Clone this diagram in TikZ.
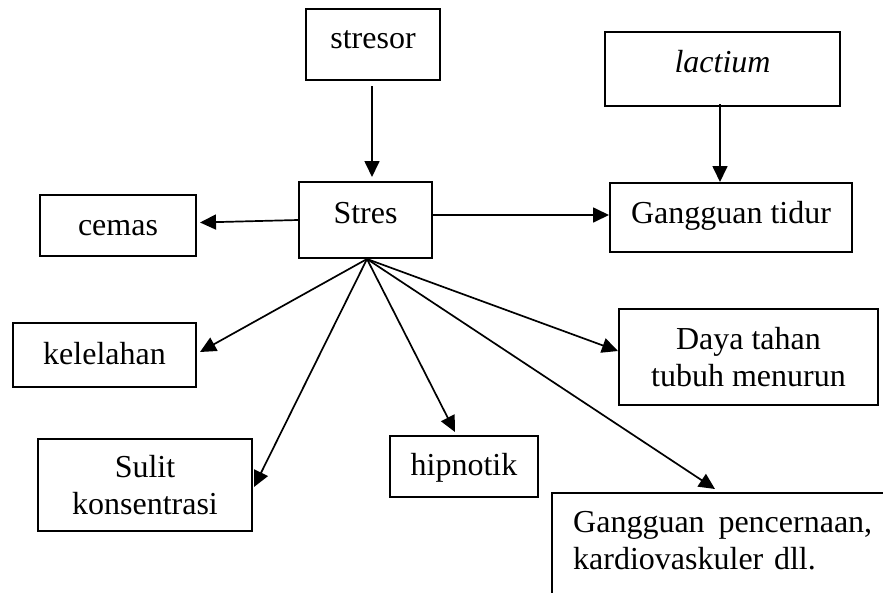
\documentclass[tikz,border=0pt]{standalone}
\usepackage{fontspec}
\setmainfont{Liberation Serif}
\usetikzlibrary{arrows.meta}

\begin{document}
\begin{tikzpicture}[
    x=1pt, y=-1pt,
    font=\fontsize{32}{37}\selectfont,
    box/.style={rectangle, draw=black, line width=2pt, align=center},
    baris/.style={text height=21pt, text depth=#1},
    arrow/.style={-{Triangle[length=16pt,width=15pt]}, line width=1.7pt}
]
\path[use as bounding box, clip] (0,0) rectangle (883,592);

\node[box, baris=14pt, minimum width=134pt, minimum height=71pt] (stresor) at (373,44.5) {stresor};
\node[box, baris=15pt, minimum width=235pt, minimum height=74pt] (lactium) at (722.5,69) {\textit{lactium}};
\node[box, baris=15pt, minimum width=133pt, minimum height=76pt] (stres) at (365.5,220) {Stres};
\node[box, baris=1pt, minimum width=156pt, minimum height=61pt] (cemas) at (118,225.5) {cemas};
\node[box, baris=10pt, minimum width=242pt, minimum height=69pt] (tidur) at (731,217.5) {Gangguan tidur};
\node[box, baris=3pt, minimum width=183pt, minimum height=64pt] (lelah) at (104.5,355) {kelelahan};
\node[box, minimum width=214pt, minimum height=92pt] (sulit) at (145,485) {Sulit\\konsentrasi};
\node[box, baris=4pt, minimum width=148pt, minimum height=61pt] (hipnotik) at (464,466.5) {hipnotik};
\node[box, minimum width=259pt, minimum height=96pt] (daya) at (748.5,357) {Daya tahan\\tubuh menurun};
\node[anchor=north west, inner xsep=21pt, inner ysep=18pt, text width=299pt, align=left] (cerna) at (552,493)
    {Gangguan \hfill pencernaan,\\kardiovaskuler dll.};
\draw[line width=2pt] (cerna.north west) rectangle ++(400,200);

\coordinate (pusat) at ([xshift=1.5pt]stres.south);

\draw[arrow] ([xshift=-1pt,yshift=-5pt]stresor.south) -- ([xshift=-1pt,yshift=4pt]stresor.south |- stres.north);
\draw[arrow] ([xshift=-2.5pt,yshift=3pt]lactium.south) -- ([xshift=-2.5pt]lactium.south |- tidur.north);
\draw[arrow] (stres.west) -- ([xshift=3pt,yshift=3pt]cemas.east);
\draw[arrow] ([yshift=5pt]stres.east) -- ([yshift=5pt]stres.east -| tidur.west);
\draw[arrow] (pusat) -- ([xshift=3pt,yshift=3pt]lelah.east);
\draw[arrow] (pusat) -- ([xshift=1pt,yshift=-2pt]sulit.east);
\draw[arrow] (pusat) -- ([xshift=-9pt,yshift=3pt]hipnotik.north);
\draw[arrow] (pusat) -- ([yshift=6pt]daya.west);
\draw[arrow] (pusat) -- ([xshift=163pt,yshift=4pt]cerna.north west);
\end{tikzpicture}
\end{document}
